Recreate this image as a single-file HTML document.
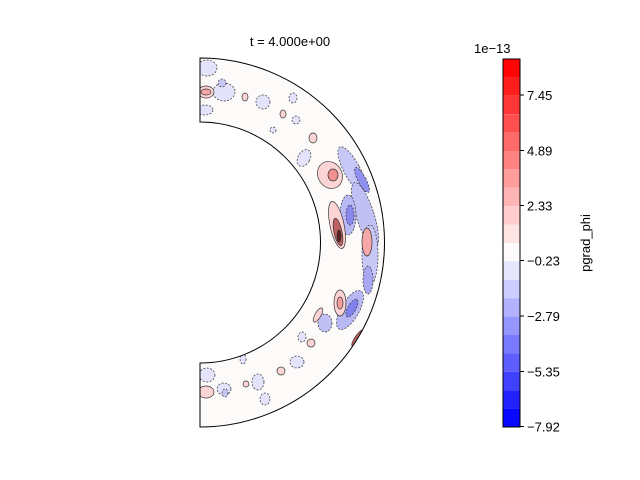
<!DOCTYPE html>
<html><head><meta charset="utf-8"><style>
body{margin:0;background:#fff;}
svg{display:block;font-family:"Liberation Sans","DejaVu Sans",sans-serif;}
</style></head><body>
<svg width="640" height="480" viewBox="0 0 640 480" xmlns="http://www.w3.org/2000/svg">
<defs>
<clipPath id="ann"><path d="M200,58 A184.5,184.5 0 0 1 200,427 L200,363 A120.5,120.5 0 0 0 200,122 Z"/></clipPath>
</defs>
<text x="290" y="46" font-size="13" text-anchor="middle">t = 4.000e+00</text>
<path d="M200,58 A184.5,184.5 0 0 1 200,427 L200,363 A120.5,120.5 0 0 0 200,122 Z" fill="#fdfafa"/>
<g clip-path="url(#ann)" stroke="#333" stroke-width="0.7">
<g fill="#e3e3fb" stroke-dasharray="2,1.5">
<ellipse cx="207" cy="68" rx="10" ry="8"/>
<ellipse cx="224" cy="92" rx="11" ry="9"/>
<ellipse cx="205" cy="110" rx="8" ry="5"/>
<ellipse cx="263" cy="102" rx="7" ry="7"/>
<ellipse cx="293" cy="98" rx="4" ry="5"/>
<ellipse cx="296" cy="120" rx="4" ry="4"/>
<ellipse cx="304" cy="158" rx="6" ry="9" transform="rotate(30 304 158)"/>
<ellipse cx="273" cy="130" rx="3" ry="3"/>
<ellipse cx="352" cy="170" rx="8" ry="26" transform="rotate(-28 352 170)" fill="#c8c8f6"/>
<ellipse cx="365" cy="215" rx="9" ry="34" transform="rotate(-18 365 215)" fill="#c0c0f5"/>
<ellipse cx="348" cy="215" rx="8" ry="20" fill="#b8b8f4"/>
<ellipse cx="362" cy="180" rx="4" ry="14" transform="rotate(-28 362 180)" fill="#9090f0"/>
<ellipse cx="350" cy="215" rx="4" ry="10" fill="#8888ee"/>
<ellipse cx="370" cy="255" rx="8" ry="30" fill="#c8c8f6"/>
<ellipse cx="350" cy="310" rx="9" ry="22" transform="rotate(30 350 310)" fill="#b8b8f4"/>
<ellipse cx="352" cy="308" rx="4" ry="10" transform="rotate(30 352 308)" fill="#8080ee"/>
<ellipse cx="325" cy="323" rx="7" ry="9" fill="#c0c0f5"/>
<ellipse cx="368" cy="280" rx="5" ry="14" fill="#a8a8f2"/>
<ellipse cx="302" cy="337" rx="4" ry="5"/>
<ellipse cx="297" cy="362" rx="7" ry="6"/>
<ellipse cx="258" cy="382" rx="6" ry="8"/>
<ellipse cx="265" cy="399" rx="5" ry="6"/>
<ellipse cx="224" cy="389" rx="7" ry="6"/>
<ellipse cx="207" cy="375" rx="8" ry="7"/>
<ellipse cx="243" cy="359" rx="3" ry="5"/>
<ellipse cx="225" cy="393" rx="3" ry="4" fill="#c8c8f6"/>
<ellipse cx="222" cy="83" rx="4" ry="4" fill="#c8c8f6"/>
</g>
<g fill="#fcd4d4">
<ellipse cx="206" cy="92" rx="8" ry="6"/>
<ellipse cx="206" cy="92" rx="5" ry="3" fill="#f6a8a8"/>
<ellipse cx="245" cy="97" rx="3" ry="4"/>
<ellipse cx="283" cy="114" rx="3" ry="4"/>
<ellipse cx="313" cy="138" rx="4" ry="5"/>
<ellipse cx="330" cy="175" rx="12" ry="14" transform="rotate(-30 330 175)"/>
<ellipse cx="333" cy="175" rx="5" ry="6" fill="#f09090"/>
<ellipse cx="337" cy="225" rx="7" ry="24" transform="rotate(-12 337 225)"/>
<ellipse cx="338" cy="232" rx="4" ry="14" transform="rotate(-12 338 232)" fill="#c06060"/>
<ellipse cx="339" cy="236" rx="2" ry="6" fill="#5a2020"/>
<ellipse cx="367" cy="242" rx="5" ry="14" fill="#f6a8a8"/>
<ellipse cx="340" cy="303" rx="6" ry="13"/>
<ellipse cx="340" cy="303" rx="3" ry="6" fill="#f3a0a0"/>
<ellipse cx="318" cy="315" rx="3" ry="8" transform="rotate(30 318 315)"/>
<ellipse cx="311" cy="343" rx="4" ry="4"/>
<ellipse cx="281" cy="371" rx="4" ry="4"/>
<ellipse cx="246" cy="384" rx="3" ry="3"/>
<ellipse cx="206" cy="392" rx="8" ry="6"/>
<ellipse cx="358" cy="338" rx="3" ry="10" transform="rotate(35 358 338)" fill="#c06060"/>
</g>
</g>
<path d="M200,58 A184.5,184.5 0 0 1 200,427 L200,363 A120.5,120.5 0 0 0 200,122 Z" fill="none" stroke="#000" stroke-width="1"/>
<g>
<rect x="503" y="59" width="17" height="18.4" fill="rgb(255,5,5)"/>
<rect x="503" y="77.4" width="17" height="18.4" fill="rgb(255,30,30)"/>
<rect x="503" y="95.8" width="17" height="18.4" fill="rgb(255,55,55)"/>
<rect x="503" y="114.2" width="17" height="18.4" fill="rgb(255,80,80)"/>
<rect x="503" y="132.6" width="17" height="18.4" fill="rgb(255,106,106)"/>
<rect x="503" y="151" width="17" height="18.4" fill="rgb(255,131,131)"/>
<rect x="503" y="169.4" width="17" height="18.4" fill="rgb(255,156,156)"/>
<rect x="503" y="187.8" width="17" height="18.4" fill="rgb(255,181,181)"/>
<rect x="503" y="206.2" width="17" height="18.4" fill="rgb(255,205,205)"/>
<rect x="503" y="224.6" width="17" height="18.4" fill="rgb(255,228,228)"/>
<rect x="503" y="243" width="17" height="18.4" fill="rgb(252,250,250)"/>
<rect x="503" y="261.4" width="17" height="18.4" fill="rgb(230,230,252)"/>
<rect x="503" y="279.8" width="17" height="18.4" fill="rgb(205,205,255)"/>
<rect x="503" y="298.2" width="17" height="18.4" fill="rgb(178,178,255)"/>
<rect x="503" y="316.6" width="17" height="18.4" fill="rgb(150,150,255)"/>
<rect x="503" y="335" width="17" height="18.4" fill="rgb(122,122,255)"/>
<rect x="503" y="353.4" width="17" height="18.4" fill="rgb(94,94,255)"/>
<rect x="503" y="371.8" width="17" height="18.4" fill="rgb(64,64,255)"/>
<rect x="503" y="390.2" width="17" height="18.4" fill="rgb(34,34,255)"/>
<rect x="503" y="408.6" width="17" height="18.4" fill="rgb(8,8,255)"/>
<rect x="503" y="59" width="17" height="368" fill="none" stroke="#000" stroke-width="1"/>
</g>
<g stroke="#000" stroke-width="1">
<line x1="520" y1="95" x2="524" y2="95"/>
<line x1="520" y1="150.5" x2="524" y2="150.5"/>
<line x1="520" y1="205.5" x2="524" y2="205.5"/>
<line x1="520" y1="260.5" x2="524" y2="260.5"/>
<line x1="520" y1="316" x2="524" y2="316"/>
<line x1="520" y1="371.5" x2="524" y2="371.5"/>
<line x1="520" y1="426.5" x2="524" y2="426.5"/>
</g>
<g font-size="13">
<text x="527" y="100">7.45</text>
<text x="527" y="155.5">4.89</text>
<text x="527" y="210.5">2.33</text>
<text x="527" y="265.5">−0.23</text>
<text x="527" y="321">−2.79</text>
<text x="527" y="376.5">−5.35</text>
<text x="527" y="431.5">−7.92</text>
<text x="474" y="53">1e−13</text>
<text transform="translate(590,243) rotate(-90)" text-anchor="middle">pgrad_phi</text>
</g>
</svg>
</body></html>
